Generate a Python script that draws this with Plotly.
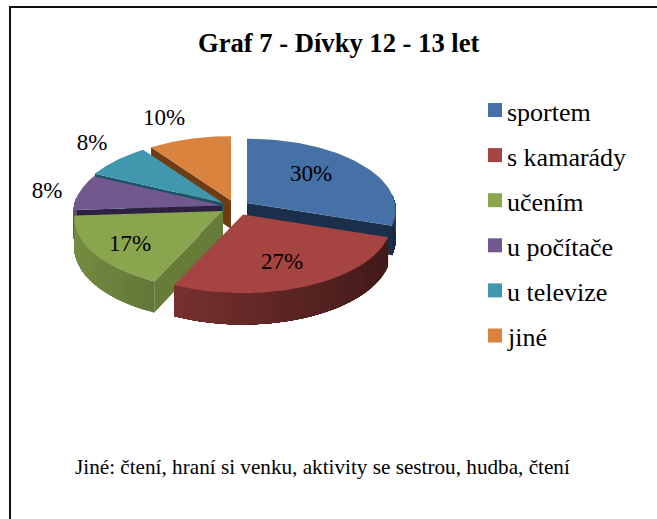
import numpy as np
import plotly.graph_objects as go

# --- data ---
categories = ["sportem", "s kamarády", "učením", "u počítače", "u televize", "jiné"]
values = [30, 27, 17, 8, 8, 10]
title_text = "Graf 7 - Dívky 12 - 13 let"
note_text = "Jiné: čtení, hraní si venku, aktivity se sestrou, hudba, čtení"

# --- style ---
top_colors = ["#4571a7", "#a64441", "#89a54e", "#71588f", "#4098af", "#d9833e"]
face_colors = ["#1b2f4b", "#4a1c1a", "#667c38", "#2e2042", "#1d5264", "#6e3c14"]
apex = [(247, 203), (243, 214.5), (223, 211), (222, 205.5), (223, 203), (231, 200.5)]
label_pos = [(311, 175), (282, 263), (130, 245), (47, 192), (92, 144), (164, 119)]
RX, RY, PERSP, DEPTH = 148, 71.5, 0.10, 28.5
W, H = 657, 519
SERIF = "Liberation Serif, Times New Roman, serif"


def project(ax, ay, t, r=1.0):
    X, Y = np.sin(t) * r, -np.cos(t) * r
    f = 1 + PERSP * Y
    return ax + RX * X * f, ay + RY * Y * f, DEPTH * f


def shade(hex_color, k):
    c = [int(hex_color[i:i + 2], 16) for i in (1, 3, 5)]
    return "rgb(%d,%d,%d)" % tuple(min(255, int(v * k)) for v in c)


def poly(xs, ys, color):
    return go.Scatter(x=list(xs), y=list(ys), mode="lines", fill="toself", fillcolor=color,
                      line=dict(color=color, width=0), hoverinfo="skip", showlegend=False)


fig = go.Figure()
total = sum(values)
edges = np.cumsum([0] + values) / total * 2 * np.pi
draw_order = [5, 4, 3, 0, 2, 1]

for i in draw_order:
    t0, t1 = edges[i], edges[i + 1]
    ax, ay = apex[i]
    ts = np.linspace(t0, t1, 80)
    # cut faces
    for t, outward in ((t0, t0 - np.pi / 2), (t1, t1 + np.pi / 2)):
        if -np.cos(outward) > -0.01:
            x, y, d = project(ax, ay, t)
            fig.add_trace(poly([ax, x, x, ax, ax], [ay, y, y + d, ay + DEPTH, ay], face_colors[i]))
    # outer wall: each shade step covers the rest of the arc, so no seams appear
    n = 30
    tw = np.linspace(t0, t1, n + 1)
    for a in tw[:-1]:
        mid = a + (t1 - t0) / n / 2
        arc = np.linspace(a, t1, 40)
        vis = -np.cos(arc) >= -0.12
        if not vis.any():
            continue
        arc = arc[vis]
        xa, ya, da = project(ax, ay, arc)
        k = 0.62 - 0.24 * np.sin(mid)
        fig.add_trace(poly([*xa, *xa[::-1]], [*ya, *(ya + da)[::-1]], shade(top_colors[i], k)))
    # top surface
    px, py, _ = project(ax, ay, ts)
    fig.add_trace(poly([ax, *px, ax], [ay, *py, ay], top_colors[i]))

# percentage labels
fig.add_trace(go.Scatter(
    x=[p[0] for p in label_pos], y=[p[1] for p in label_pos], mode="text",
    text=[f"{v}%" for v in values], textposition="middle center",
    textfont=dict(family=SERIF, size=23, color="#000000"),
    hoverinfo="skip", showlegend=False))

# legend drawn as swatches plus labels
leg_y = [110 + 45.1 * k for k in range(len(categories))]
fig.add_trace(go.Scatter(
    x=[495] * len(categories), y=leg_y, mode="markers",
    marker=dict(symbol="square", size=14, color=top_colors, line=dict(width=0)),
    hoverinfo="skip", showlegend=False))
for c, y in zip(categories, leg_y):
    fig.add_annotation(x=505, y=y + 2, text=c, showarrow=False, xanchor="left", yanchor="middle",
                       font=dict(family=SERIF, size=26, color="#000000"))

fig.add_annotation(x=339, y=43, text=f"<b>{title_text}</b>", showarrow=False, xanchor="center",
                   yanchor="middle", font=dict(family=SERIF, size=26.6, color="#000000"))
fig.add_annotation(x=73, y=467, text=note_text, showarrow=False, xanchor="left", yanchor="middle",
                   font=dict(family=SERIF, size=21.2, color="#000000"))

fig.update_layout(
    width=W, height=H, margin=dict(l=0, r=0, t=0, b=0),
    paper_bgcolor="white", plot_bgcolor="white", showlegend=False,
    xaxis=dict(range=[0, W], visible=False, fixedrange=True),
    yaxis=dict(range=[H, 0], visible=False, fixedrange=True),
    shapes=[dict(type="rect", xref="x", yref="y", x0=10, y0=7, x1=W + 20, y1=H + 20,
                 line=dict(color="#111111", width=2), fillcolor="rgba(0,0,0,0)", layer="below")],
)
fig.write_html("out.html", config={"displayModeBar": False},
               post_script="document.documentElement.style.overflow='hidden';document.body.style.margin='0';")
